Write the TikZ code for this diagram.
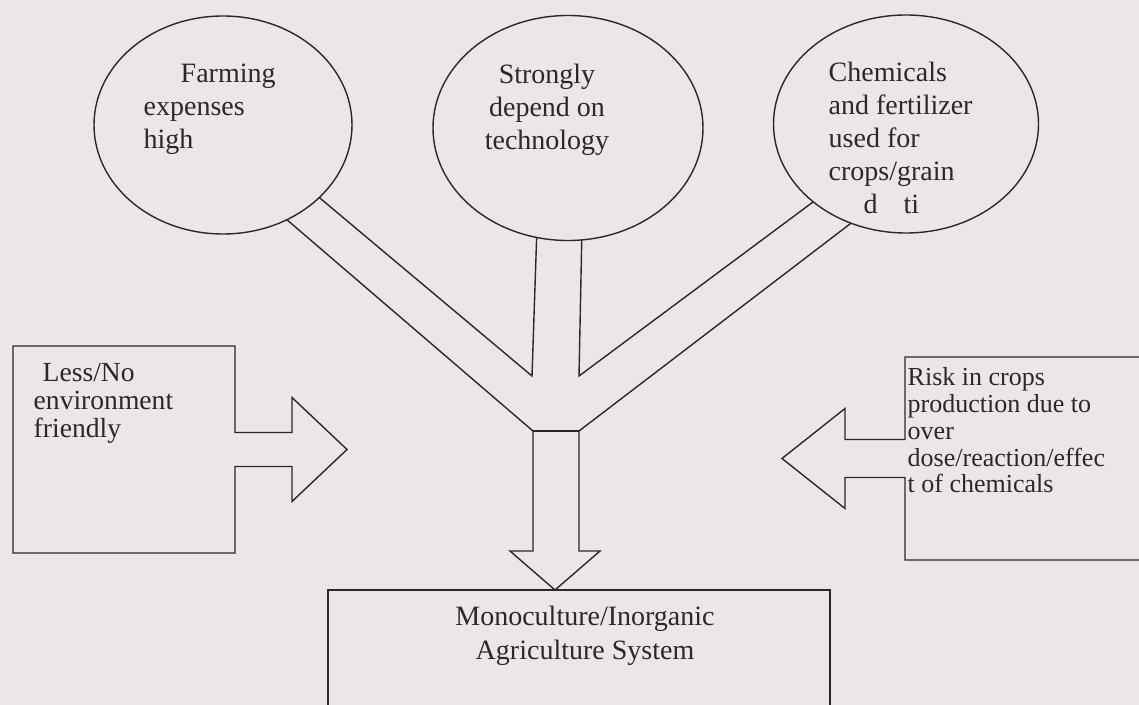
\documentclass[tikz,border=0pt]{standalone}
\usepackage{fontspec}
\setmainfont{Liberation Serif}
\usetikzlibrary{calc,shapes.geometric}

\definecolor{paper}{RGB}{237,230,231}
\definecolor{ink}{RGB}{42,40,40}

\tikzset{
    bubble/.style={draw, ellipse, inner sep=0pt, outer sep=0pt},
    box/.style={rectangle, inner sep=0pt, outer sep=0pt},
    txt/.style={inner sep=0pt, align=left, font=\fontsize{14}{16.5}\selectfont},
    boxtxt/.style={txt, font=\fontsize{13}{13.4}\selectfont},
}

\begin{document}
\begin{tikzpicture}[x=0.5pt, y=-0.5pt, line width=0.7pt, color=ink]
    \useasboundingbox (0,0) rectangle (1139,705);
    \clip (0,0) rectangle (1139,705);
    \fill[paper] (0,0) rectangle (1139,705);

    \node[bubble, minimum width=129pt, minimum height=109pt] at (223,125) (farm) {};
    \node[bubble, minimum width=135pt, minimum height=112.5pt] at (568,128) (tech) {};
    \node[bubble, minimum width=132.5pt, minimum height=109pt] at (906,124) (chem) {};
    \node[box, minimum width=111pt, minimum height=103.5pt] at (124,449.5) (env) {};
    \node[box, minimum width=127.5pt, minimum height=101.5pt] at (1032.5,458.5) (risk) {};
    \node[box, draw, minimum width=251pt, minimum height=85pt] at (579,675) (mono) {};

    \node[txt, anchor=north west] at (143,63) (farmtxt) {\hspace*{18.5pt}Farming\\expenses\\high};
    \node[txt, anchor=north, align=center] at (547,63) (techtxt) {Strongly\\depend on\\technology};
    \node[txt, anchor=north west] at (828,61) (chemtxt) {Chemicals\\and fertilizer\\used for\\crops/grain\\\hspace*{17.5pt}d\hspace{13pt}ti};
    \node[txt, anchor=north west, font=\fontsize{13.8}{14}\selectfont] at (33,363) (envtxt) {\hspace*{4.5pt}Less/No\\environment\\friendly};
    \node[boxtxt, anchor=north west] at (907,367) (risktxt) {Risk in crops\\production due to\\over\\dose/reaction/effec\\t of chemicals};
    \node[txt, anchor=north, align=center, font=\fontsize{14}{17}\selectfont] at (585,605) (monotxt) {Monoculture/Inorganic\\Agriculture System};

    \draw (env.north east) -- ($(env.east)+(0,-17)$) -- ++(57,0) -- ++(0,-35) -- ++(55,52) -- ++(-55,52) -- ++(0,-35) -- ++(-57,0) -- (env.south east) -- (env.south west) -- (env.north west) -- cycle;
    \draw (risk.north east) -- (risk.north west) -- ($(risk.west)+(0,-19)$) -- ++(-60,0) -- ++(0,-31) -- ++(-63,50) -- ++(63,50) -- ++(0,-31) -- ++(60,0) -- (risk.south west) -- (risk.south east);

    \coordinate (jl) at (532,376);
    \coordinate (jr) at (579,376);
    \coordinate (sl) at (533,431);
    \coordinate (sr) at (579,431);
    \coordinate (tip) at ($(mono.north)+(-24,0)$);
    \draw (farm.-37.5) -- (jl) -- (tech.-106.4);
    \draw (tech.-83.8) -- (jr) -- (chem.-140.5);
    \draw (farm.-56.6) -- (sl) -- ++(0,120) -- ++(-23,0) -- (tip) -- ++(45,-39) -- ++(-21,0) -- (sr) -- (chem.-119.5);
    \draw (sl) -- (sr);
\end{tikzpicture}
\end{document}
